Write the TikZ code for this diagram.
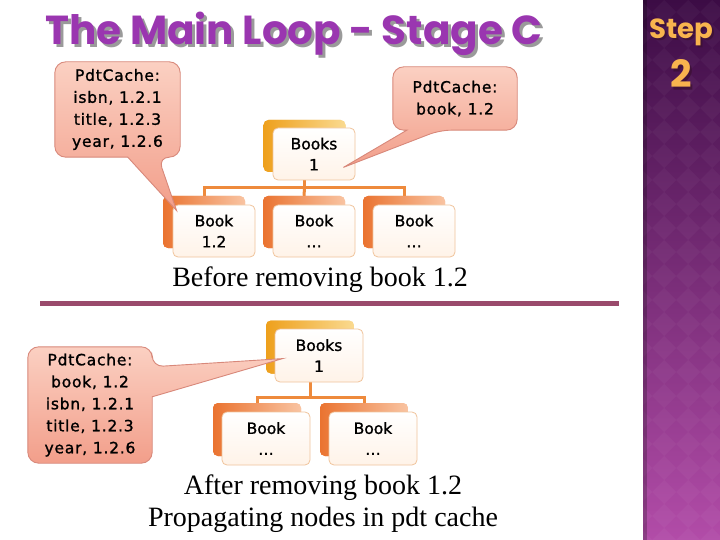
\documentclass[tikz,border=0pt]{standalone}
\usepackage{fontspec}
\usepackage{graphicx}
\setmainfont{Liberation Serif}
\newfontfamily\sansf{DejaVu Sans}[FakeBold=1.2]
\newfontfamily\callf{DejaVu Sans}[LetterSpace=5,FakeBold=1.2]
\newfontfamily\titlef{Poppins}
\usetikzlibrary{calc}
\pgfdeclarelayer{bg}
\pgfdeclarelayer{mid}
\pgfsetlayers{bg,mid,main}
\definecolor{titlepurple}{HTML}{9A36B0}
\definecolor{titleshadow}{HTML}{9A9A9A}
\definecolor{sideTop}{HTML}{3C0C45}
\definecolor{sideBot}{HTML}{B24CA8}
\definecolor{steporange}{HTML}{F8B44E}
\definecolor{stepshadow}{HTML}{3A1030}
\definecolor{sepline}{HTML}{9A4A6C}
\definecolor{callA}{HTML}{FBD0C2}
\definecolor{callB}{HTML}{F29E8A}
\definecolor{calledge}{HTML}{D8887A}
\definecolor{boxedge}{HTML}{F0C49C}
\definecolor{boxfill}{HTML}{FFF3E8}
\definecolor{orA}{HTML}{EA7330}
\definecolor{orB}{HTML}{F9C4A2}
\definecolor{goA}{HTML}{EEA01C}
\definecolor{goB}{HTML}{FADA90}
\definecolor{connc}{HTML}{EE8A3C}
\tikzset{
  frontbox/.style={draw=boxedge, line width=0.8pt, rounded corners=5pt, top color=white, bottom color=boxfill,
    minimum width=82pt, minimum height=52pt, align=center, inner sep=0pt,
    font=\sansf\fontsize{15.5}{21}\selectfont},
  bigfront/.style={frontbox, minimum width=88pt, minimum height=53pt},
  childback/.style={rounded corners=5pt, left color=orA, right color=orB, minimum width=82pt, minimum height=52pt, inner sep=0pt},
  bigchildback/.style={childback, minimum width=88pt, minimum height=53pt},
  rootback/.style={rounded corners=5pt, left color=goA, right color=goB, minimum width=82pt, minimum height=52pt, inner sep=0pt},
  bigrootback/.style={rootback, minimum width=88pt, minimum height=53pt},
  conn/.style={draw=connc, line width=3pt},
  callshape/.style={draw=calledge, line width=0.9pt, top color=callA, bottom color=callB},
  calltext/.style={font=\callf\fontsize{15.5}{22}\selectfont, align=center, inner sep=0pt},
  captext/.style={font=\fontsize{28}{32}\selectfont, align=center, inner sep=0pt}
}
\begin{document}
\begin{tikzpicture}[x=1pt,y=-1pt]
\useasboundingbox (0,0) rectangle (720,540);
\begin{pgfonlayer}{bg}
\fill[white] (0,0) rectangle (720,540);
% sidebar
\shade[top color=sideTop, bottom color=sideBot] (643,0) rectangle (720,540);
\begin{scope}
\clip (643,0) rectangle (720,540);
\foreach \i in {0,...,4} {
  \foreach \j in {0,...,23} {
    \fill[white, opacity=0.035] ({640+\i*24},{\j*24}) -- ++(12,12) -- ++(-12,12) -- ++(-12,-12) -- cycle;
  }
}
\end{scope}
\fill[black, opacity=0.22] (643,0) rectangle (647,540);
% separator
\draw[sepline, line width=4.5pt] (40,303.5) -- (619,303.5);
% top tree
\coordinate (bar1) at (0,188);
\node[rootback] (tAb) at (304.5,146) {};
\node[childback] (tA1b) at (204,222) {};
\node[childback] (tA2b) at (304,222) {};
\node[childback] (tA3b) at (404,222) {};
\draw[conn] (tAb.south) -- (tAb.south |- bar1) -| (tA1b.north);
\draw[conn] (tAb.south |- bar1) -| (tA3b.north);
\draw[conn] (tAb.south |- bar1) -- (tA2b.north);
\node[rootback] at (304.5,146) {};
\node[childback] at (204,222) {};
\node[childback] at (304,222) {};
\node[childback] at (404,222) {};
\node[frontbox] (tA) at (314,154) {Books\\1};
\node[frontbox] (tA1) at (214,231) {Book\\1.2};
\node[frontbox] (tA2) at (314,231) {Book\\\dots};
\node[frontbox] (tA3) at (414,231) {Book\\\dots};
% bottom tree
\coordinate (bar2) at (0,397);
\node[bigrootback] (tBb) at (310,347) {};
\node[bigchildback] (tB1b) at (257,429.5) {};
\node[bigchildback] (tB2b) at (364,429.5) {};
\draw[conn] (tBb.south) -- (tBb.south |- bar2) -| (tB1b.north);
\draw[conn] (tBb.south |- bar2) -| (tB2b.north);
\node[bigrootback] at (310,347) {};
\node[bigchildback] at (257,429.5) {};
\node[bigchildback] at (364,429.5) {};
\node[bigfront] (tB) at (319,355.5) {Books\\1};
\node[bigfront] (tB1) at (266,438.5) {Book\\\dots};
\node[bigfront] (tB2) at (373,438.5) {Book\\\dots};
\end{pgfonlayer}

% callout texts
\node[calltext, minimum width=125pt, minimum height=95pt] (c1) at (117.5,109.5) {PdtCache:\\isbn, 1.2.1\\title, 1.2.3\\year, 1.2.6};
\node[calltext, minimum width=124pt, minimum height=63pt] (c2) at (455,98.5) {PdtCache:\\book, 1.2};
\node[calltext, minimum width=124pt, minimum height=116pt] (c3) at (90,405) {PdtCache:\\book, 1.2\\isbn, 1.2.1\\title, 1.2.3\\year, 1.2.6};

\begin{pgfonlayer}{mid}
\path[callshape] (c1.north) [rounded corners=11pt] -- (c1.north east) -- (c1.south east) -- ([shift={(-22,0)}]c1.south east)
  [sharp corners] -- ([shift={(4,6)}]tA1.north west) -- ([shift={(73,0)}]c1.south west)
  [rounded corners=11pt] -- (c1.south west) -- (c1.north west) -- cycle;
\path[callshape] (c2.north) [rounded corners=11pt] -- (c2.north east) -- (c2.south east) -- ([shift={(47,0)}]c2.south west)
  [sharp corners] -- ([shift={(-12,-13)}]tA.south east) -- ([shift={(14,0)}]c2.south west)
  [rounded corners=11pt] -- (c2.south west) -- (c2.north west) -- cycle;
\path[callshape] (c3.north) [rounded corners=11pt] -- (c3.north east) -- ([shift={(0,20)}]c3.north east)
  [sharp corners] -- ([shift={(8,30)}]tB.north west) -- ([shift={(0,50)}]c3.north east)
  [rounded corners=11pt] -- (c3.south east) -- (c3.south west) -- (c3.north west) -- cycle;
\end{pgfonlayer}

% title
\node[inner sep=0pt, text=titleshadow] (titleshadow) at (297,37) {\resizebox{497pt}{!}{\titlef\bfseries The Main Loop - Stage C}};
\node[inner sep=0pt, text=titlepurple] (title) at (294,34) {\resizebox{497pt}{!}{\titlef\bfseries The Main Loop - Stage C}};

% sidebar text
\node[inner sep=0pt, text=stepshadow, opacity=0.7] (stepsh) at (683,34) {\resizebox{64pt}{!}{\titlef\bfseries Step}};
\node[inner sep=0pt, text=steporange] (step) at (681,32) {\resizebox{64pt}{!}{\titlef\bfseries Step}};
\node[inner sep=0pt, text=stepshadow, opacity=0.7] (twosh) at (683,76) {\resizebox{!}{28pt}{\titlef\bfseries 2}};
\node[inner sep=0pt, text=steporange] (two) at (681,74) {\resizebox{!}{28pt}{\titlef\bfseries 2}};

% captions
\node[captext] (cap1) at (320,280) {Before removing book 1.2};
\node[captext] (cap2) at (323,504) {After removing book 1.2\\Propagating nodes in pdt cache};
\end{tikzpicture}
\end{document}
